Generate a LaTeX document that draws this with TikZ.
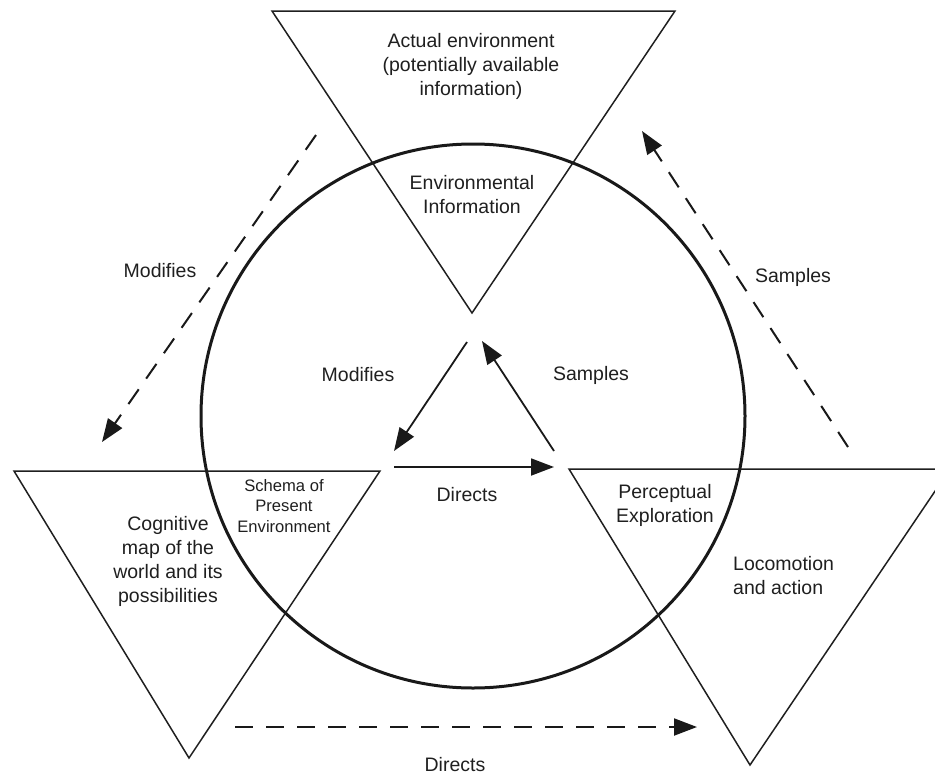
\documentclass[tikz,border=0pt]{standalone}
\usepackage{fontspec}
\setmainfont{Liberation Sans}
\usetikzlibrary{arrows.meta}
\begin{document}
\begin{tikzpicture}[x=1pt,y=-1pt,
  tri/.style={draw=black!88, line width=1.5pt, line join=miter},
  ring/.style={draw=black!90, line width=3pt},
  solidarrow/.style={draw=black!90, line width=1.8pt, -{Triangle[length=23pt,width=17pt]}},
  dasharrow/.style={solidarrow, line width=2pt, dash pattern=on 18pt off 13pt},
  lbl/.style={font=\fontsize{19.5}{24}\selectfont, align=center, inner sep=0pt, text=black!88},
  smalllbl/.style={font=\fontsize{16.6}{20.5}\selectfont, align=center, inner sep=0pt, text=black!88}]
\useasboundingbox (0,0) rectangle (935,774);
\clip (0,0) rectangle (935,774);
% circle
\draw[ring] (473,416) circle (272pt);
% triangles
\draw[tri] (272,11) -- (675,11) -- (472,313) -- cycle;
\draw[tri] (14,471) -- (380,471) -- (189,758) -- cycle;
\draw[tri] (569,469) -- (950,469) -- (750,765) -- cycle;
% texts
\node[lbl] (actual) at (471,66) {Actual environment\\(potentially available\\information)};
\node[lbl] (envinfo) at (472,195) {Environmental\\Information};
\node[smalllbl] (schema) at (284,506) {Schema of\\Present\\Environment};
\node[lbl] (cogmap) at (168,561) {Cognitive\\map of the\\world and its\\possibilities};
\node[lbl] (percep) at (665,505) {Perceptual\\Exploration};
\node[lbl, align=left, anchor=west] (loco) at (733,576) {Locomotion\\and action};
\node[lbl] (modin) at (358,375) {Modifies};
\node[lbl] (sampin) at (591,375) {Samples};
\node[lbl] (dirin) at (467,495) {Directs};
\node[lbl] (modout) at (160,271) {Modifies};
\node[lbl] (sampout) at (793,277) {Samples};
\node[lbl, anchor=base] (dirout) at (455,771) {Directs};
% arrow end points
\coordinate (mA) at (467,342);
\coordinate (mB) at (394,451);
\coordinate (sA) at (554,451);
\coordinate (sB) at (482,341);
\coordinate (dA) at (394,467);
\coordinate (dB) at (554,467);
\coordinate (omA) at (316,135);
\coordinate (omB) at (102,442);
\coordinate (osA) at (848,447);
\coordinate (osB) at (642,131);
\coordinate (odA) at (235,727);
\coordinate (odB) at (697,727);
% inner arrows
\draw[solidarrow] (mA) -- (mB);
\draw[solidarrow] (sA) -- (sB);
\draw[solidarrow] (dA) -- (dB);
% outer dashed arrows
\draw[dasharrow] (omA) -- (omB);
\draw[dasharrow] (osA) -- (osB);
\draw[dasharrow] (odA) -- (odB);
\end{tikzpicture}
\end{document}
